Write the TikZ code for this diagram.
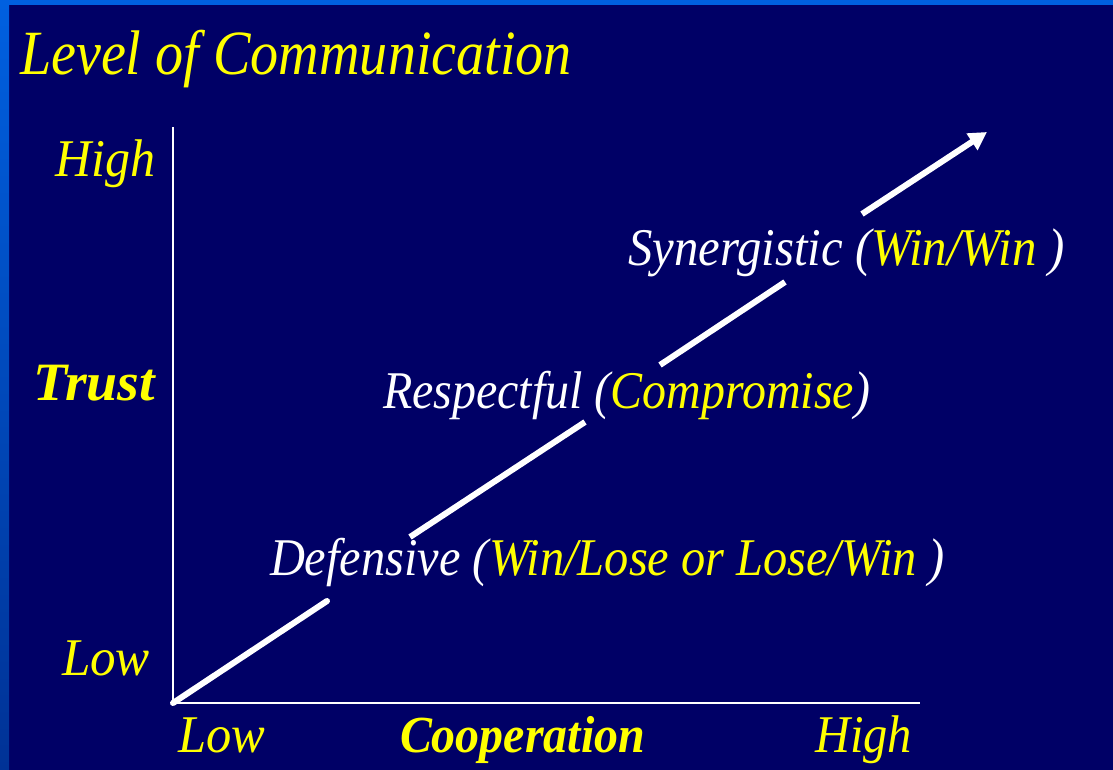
\documentclass[tikz,border=0pt]{standalone}
\usepackage{fontspec}
\setmainfont{Liberation Serif}
\usepackage{graphicx}
\usetikzlibrary{arrows.meta}
\definecolor{navy}{RGB}{0,0,102}
\definecolor{ylw}{RGB}{255,255,0}
\definecolor{edgeblue}{RGB}{0,96,224}
\definecolor{edgedark}{RGB}{0,50,150}
\newsavebox\fitbox
\newcommand\fitw[2]{\sbox\fitbox{#2}\pgfmathsetmacro\fitscale{#1/\wd\fitbox}\scalebox{\fitscale}[1]{\usebox\fitbox}}
\tikzset{
  lbl/.style={anchor=base west, inner sep=0pt, outer sep=0pt, font=\fontsize{53}{60}\selectfont\itshape},
  yl/.style={lbl, text=ylw},
  wh/.style={lbl, text=white},
  axis/.style={draw=white, line width=2pt},
  trend/.style={draw=white, line width=6pt, line cap=butt},
}
\begin{document}
\begin{tikzpicture}[x=1pt,y=-1pt]
\useasboundingbox (0,0) rectangle (1113,770);
\fill[navy] (0,0) rectangle (1113,770);
\shade[top color=edgeblue, bottom color=edgedark] (0,0) rectangle (9,770);
\fill[edgeblue] (0,0) rectangle (1113,5);

% title
\node[yl, font=\fontsize{63}{70}\selectfont\itshape] (title) at (20,75) {\fitw{552}{Level of Communication}};

% axis labels
\node[yl] (yhigh) at (55,177) {\fitw{100}{High}};
\node[yl, font=\fontsize{54}{60}\selectfont\bfseries\itshape] (trust) at (33,400) {\fitw{122}{Trust}};
\node[yl] (ylow) at (62,675) {\fitw{88}{Low}};
\node[yl] (xlow) at (178,752) {\fitw{87}{Low}};
\node[yl, font=\fontsize{52}{60}\selectfont\bfseries\itshape] (coop) at (400,752) {\fitw{245}{Cooperation}};
\node[yl] (xhigh) at (815,752) {\fitw{97}{High}};

% axes
\coordinate (O) at (173,703);
\coordinate (ytop) at (173,127);
\coordinate (xend) at (920,703);
\draw[axis] (ytop) -- (O) -- (xend);

% trend segments
\coordinate (a1) at (173,703);
\coordinate (a2) at (327,601);
\coordinate (b1) at (410,537);
\coordinate (b2) at (585,422);
\coordinate (c1) at (660,365);
\coordinate (c2) at (785,282);
\coordinate (d1) at (862,214);
\coordinate (d2) at (987,132);
\draw[trend, line cap=round] (a1) -- (a2);
\draw[trend] (b1) -- (b2);
\draw[trend] (c1) -- (c2);
\draw[trend, -{Triangle[length=18pt,width=19pt]}] (d1) -- (d2);

% stage labels
\node[wh] (syn) at (628,265) {\fitw{437}{Synergistic (\textcolor{ylw}{Win/Win} )}};
\node[wh] (resp) at (383,408) {\fitw{487}{Respectful (\textcolor{ylw}{Compromise})}};
\node[wh] (def) at (270,575) {\fitw{675}{Defensive (\textcolor{ylw}{Win/Lose or Lose/Win} )}};
\end{tikzpicture}
\end{document}
